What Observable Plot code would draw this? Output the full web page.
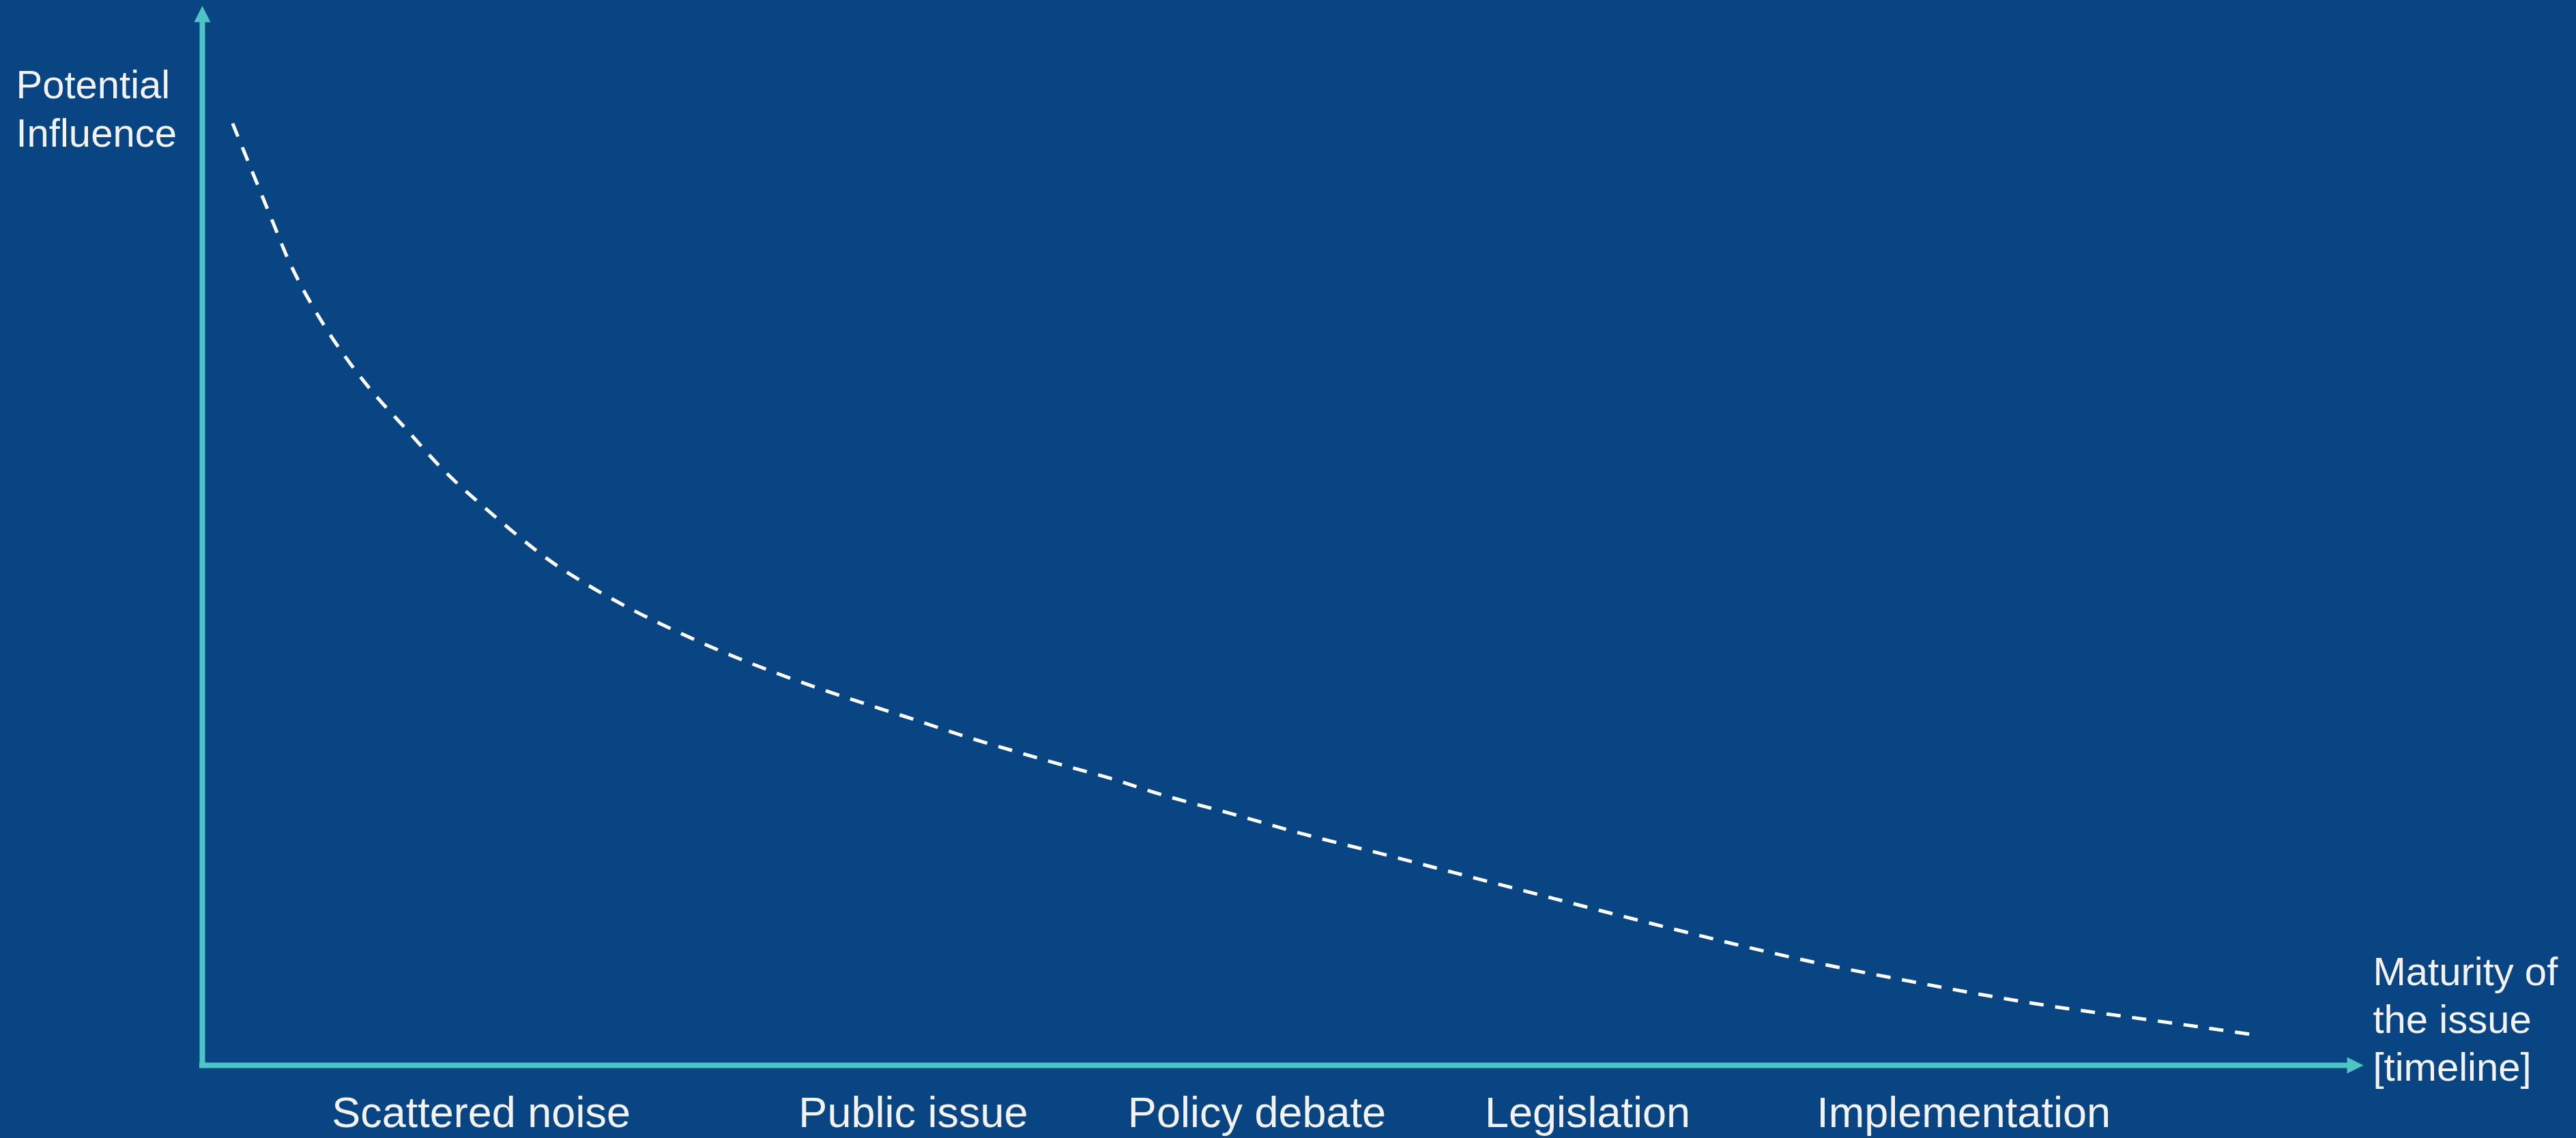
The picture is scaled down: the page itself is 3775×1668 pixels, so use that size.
<!DOCTYPE html>
<html>
<head>
<meta charset="utf-8">
<script src="https://cdn.jsdelivr.net/npm/d3@7"></script>
<script src="https://cdn.jsdelivr.net/npm/@observablehq/plot@0.6"></script>
<style>
  html, body { margin: 0; padding: 0; background: #094583; }
  #chart svg { display: block; }
</style>
</head>
<body>
<div id="chart"></div>
<script>
// Timeline position (0–100 along the x axis) and potential influence (0–100 along the y axis)
const timeline  = [1.4, 2.3, 3.2, 4.1, 5.2, 6.5, 7.9, 9.5, 11.1, 12.8, 15.9, 17.7, 19.8, 21.9, 24.1, 26.2, 28.5, 30.7, 33.0, 35.2, 37.5, 39.7, 42.0, 44.3, 47.7, 51.0, 54.5, 57.9, 61.3, 64.7, 68.2, 71.6, 75.1, 78.6, 82.0, 85.5, 89.0, 92.5, 95.2];
const influence = [88.9, 84.4, 79.9, 75.5, 71.3, 67.2, 63.5, 59.9, 56.3, 53.1, 47.9, 45.5, 43.1, 41.0, 39.0, 37.3, 35.6, 34.1, 32.6, 31.1, 29.7, 28.4, 27.1, 25.6, 23.7, 21.8, 20.0, 18.2, 16.4, 14.6, 12.8, 11.1, 9.5, 8.1, 6.8, 5.6, 4.6, 3.6, 2.8];

// Stage labels along the timeline
const stages = ["Scattered noise", "Public issue", "Policy debate", "Legislation", "Implementation"];
const stagePositions = [12.9, 32.9, 48.8, 64.1, 81.5];

const yAxisLabel = "Potential\nInfluence";
const xAxisLabel = "Maturity of\nthe issue\n[timeline]";

const curve = timeline.map((t, i) => ({t, v: influence[i]}));
const stageData = stages.map((s, i) => ({s, t: stagePositions[i]}));

const bg = "#094583";
const teal = "#4FC4C4";
const textColor = "#F2F2F2";
const font = "'Liberation Sans', Arial, sans-serif";

const arrowHead = {
  draw(context) {
    context.moveTo(0, 0);
    context.lineTo(-12, 24);
    context.lineTo(12, 24);
    context.closePath();
  }
};

const chart = Plot.plot({
  width: 3775,
  height: 1668,
  margin: 0,
  style: {background: bg, fontFamily: font, color: textColor},
  x: {domain: [0, 100], range: [296, 3463], axis: null},
  y: {domain: [0, 100], range: [1561, 8], axis: null},
  marks: [
    // axes
    Plot.ruleX([0], {y1: 100, y2: 0, stroke: teal, strokeWidth: 8, insetTop: 20}),
    Plot.ruleY([0], {x1: 0, x2: 100, stroke: teal, strokeWidth: 8, insetRight: 20, insetLeft: -4}),
    Plot.dot([{x: 0, y: 100}], {x: "x", y: "y", symbol: arrowHead, fill: teal, stroke: null, r: 10}),
    Plot.dot([{x: 100, y: 0}], {x: "x", y: "y", symbol: arrowHead, fill: teal, stroke: null, r: 10, rotate: 90}),
    // curve
    Plot.line(curve, {x: "t", y: "v", curve: "catmull-rom", stroke: "#FFFFFF", strokeWidth: 5, strokeDasharray: "21,17", strokeLinecap: "butt"}),
    // axis titles
    Plot.text([yAxisLabel], {text: d => d, frameAnchor: "top-left", textAnchor: "start", lineAnchor: "top", dx: 23, dy: 93, fontSize: 58, lineHeight: 1.23, fill: textColor}),
    Plot.text([{x: 100, y: 0, label: xAxisLabel}], {x: "x", y: "y", text: "label", textAnchor: "start", lineAnchor: "top", dx: 14, dy: -167, fontSize: 58, lineHeight: 1.207, fill: textColor}),
    // stage labels
    Plot.text(stageData, {x: "t", y: () => 0, text: "s", textAnchor: "middle", lineAnchor: "top", dy: 46, fontSize: 63, fill: textColor})
  ]
});

document.getElementById("chart").appendChild(chart);
</script>
</body>
</html>
